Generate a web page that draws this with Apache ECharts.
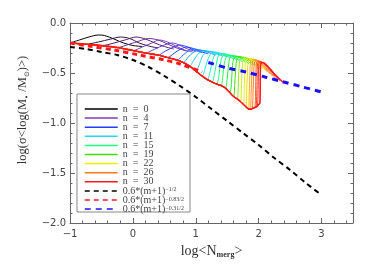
<!DOCTYPE html>
<html><head><meta charset="utf-8">
<script src="https://cdn.jsdelivr.net/npm/echarts@6/dist/echarts.min.js"></script>
<style>html,body{margin:0;padding:0;background:#fff}#c{width:374px;height:267px}</style>
</head><body><div id="c"></div>
<script>
// ---- data ----
const xTicks = [-1, 0, 1, 2, 3];
const yTicks = [0.0, -0.5, -1.0, -1.5, -2.0];

// common lower envelope shared by the curves before they depart upward
const lowerEnvelope = [[-1.0,-0.20],[-0.75,-0.212],[-0.5,-0.226],[-0.25,-0.245],[0.0,-0.275],[0.2,-0.30],[0.4,-0.32],[0.55,-0.345],[0.7,-0.37],[0.8,-0.395],[0.9,-0.43],[1.0,-0.48],[1.1,-0.53],[1.18,-0.565],[1.26,-0.59],[1.33,-0.61],[1.4,-0.625],[1.47,-0.65],[1.54,-0.695],[1.6,-0.735],[1.66,-0.76],[1.71,-0.785],[1.76,-0.815],[1.8,-0.84],[1.84,-0.86],[1.87,-0.862],[1.9,-0.855],[1.94,-0.845],[1.96,-0.84],[1.98,-0.83],[2.0,-0.815],[2.02,-0.80]];

// per-curve part after leaving the lower envelope (n = 0 ... 30)
const curveTails = [
 [[-1.0,-0.20],[-0.85,-0.17],[-0.7,-0.14],[-0.55,-0.12],[-0.45,-0.125],[-0.3,-0.16],[-0.15,-0.2],[0.0,-0.225],[0.15,-0.235]],
 [[-0.75,-0.212],[-0.55,-0.19],[-0.35,-0.16],[-0.2,-0.14],[-0.05,-0.155],[0.1,-0.2],[0.25,-0.23],[0.4,-0.25]],
 [[-0.5,-0.226],[-0.3,-0.2],[-0.1,-0.165],[0.05,-0.14],[0.2,-0.16],[0.35,-0.2],[0.5,-0.235],[0.65,-0.26]],
 [[-0.25,-0.245],[-0.05,-0.21],[0.1,-0.18],[0.25,-0.155],[0.4,-0.17],[0.55,-0.21],[0.7,-0.25],[0.85,-0.28]],
 [[0.0,-0.275],[0.15,-0.24],[0.3,-0.2],[0.42,-0.17],[0.55,-0.19],[0.68,-0.23],[0.82,-0.27],[0.95,-0.29]],
 [[0.2,-0.30],[0.35,-0.26],[0.5,-0.22],[0.62,-0.2],[0.72,-0.215],[0.85,-0.255],[1.0,-0.285]],
 [[0.4,-0.32],[0.52,-0.28],[0.65,-0.24],[0.75,-0.22],[0.85,-0.235],[0.95,-0.265],[1.1,-0.295]],
 [[0.55,-0.345],[0.66,-0.3],[0.76,-0.26],[0.86,-0.24],[0.96,-0.255],[1.08,-0.285],[1.2,-0.31]],
 [[0.7,-0.37],[0.8,-0.32],[0.88,-0.28],[0.98,-0.26],[1.1,-0.275],[1.22,-0.3],[1.32,-0.32]],
 [[0.8,-0.395],[0.88,-0.34],[0.95,-0.3],[1.05,-0.27],[1.18,-0.28],[1.3,-0.3],[1.42,-0.33]],
 [[0.9,-0.43],[0.97,-0.37],[1.03,-0.315],[1.12,-0.28],[1.25,-0.285],[1.38,-0.31],[1.5,-0.34]],
 [[1.0,-0.48],[1.06,-0.41],[1.1,-0.34],[1.18,-0.29],[1.3,-0.29],[1.42,-0.31],[1.55,-0.35]],
 [[1.1,-0.53],[1.15,-0.45],[1.19,-0.37],[1.25,-0.305],[1.36,-0.3],[1.48,-0.32],[1.6,-0.36]],
 [[1.18,-0.565],[1.23,-0.48],[1.26,-0.39],[1.31,-0.315],[1.42,-0.305],[1.55,-0.33],[1.65,-0.37]],
 [[1.26,-0.59],[1.3,-0.5],[1.33,-0.4],[1.37,-0.32],[1.47,-0.31],[1.6,-0.34],[1.7,-0.38]],
 [[1.33,-0.61],[1.37,-0.52],[1.39,-0.41],[1.43,-0.33],[1.52,-0.32],[1.64,-0.345],[1.75,-0.39]],
 [[1.4,-0.625],[1.43,-0.53],[1.45,-0.42],[1.49,-0.335],[1.58,-0.325],[1.7,-0.35],[1.8,-0.4]],
 [[1.47,-0.65],[1.5,-0.55],[1.52,-0.43],[1.55,-0.34],[1.64,-0.33],[1.75,-0.36],[1.85,-0.41]],
 [[1.54,-0.695],[1.57,-0.58],[1.58,-0.45],[1.61,-0.35],[1.69,-0.335],[1.8,-0.365],[1.9,-0.42]],
 [[1.6,-0.735],[1.62,-0.6],[1.635,-0.46],[1.66,-0.355],[1.74,-0.34],[1.85,-0.37],[1.94,-0.43]],
 [[1.66,-0.76],[1.675,-0.63],[1.685,-0.48],[1.71,-0.36],[1.78,-0.345],[1.88,-0.375],[1.98,-0.44]],
 [[1.71,-0.785],[1.725,-0.65],[1.735,-0.5],[1.755,-0.365],[1.82,-0.35],[1.92,-0.38],[2.02,-0.45]],
 [[1.76,-0.815],[1.77,-0.67],[1.78,-0.51],[1.8,-0.37],[1.86,-0.355],[1.95,-0.385],[2.06,-0.46]],
 [[1.8,-0.84],[1.81,-0.69],[1.82,-0.52],[1.84,-0.375],[1.9,-0.36],[1.99,-0.39],[2.1,-0.47]],
 [[1.84,-0.86],[1.85,-0.7],[1.86,-0.53],[1.875,-0.38],[1.93,-0.365],[2.02,-0.4],[2.14,-0.49]],
 [[1.87,-0.862],[1.88,-0.7],[1.89,-0.54],[1.905,-0.385],[1.96,-0.37],[2.05,-0.41],[2.18,-0.51]],
 [[1.9,-0.855],[1.91,-0.7],[1.92,-0.54],[1.935,-0.39],[1.98,-0.375],[2.07,-0.415],[2.22,-0.53]],
 [[1.94,-0.845],[1.95,-0.7],[1.955,-0.55],[1.965,-0.39],[2.0,-0.38],[2.1,-0.42],[2.26,-0.55]],
 [[1.96,-0.84],[1.97,-0.7],[1.975,-0.55],[1.985,-0.395],[2.02,-0.385],[2.13,-0.43],[2.3,-0.565]],
 [[1.98,-0.83],[1.99,-0.7],[1.995,-0.55],[2.005,-0.395],[2.04,-0.39],[2.16,-0.44],[2.34,-0.58]],
 [[2.02,-0.80],[2.025,-0.6],[2.03,-0.41],[2.07,-0.395],[2.15,-0.44],[2.25,-0.51],[2.4,-0.60]]
];

const dashBlack = [[-1.0,-0.24],[-0.75,-0.26],[-0.5,-0.29],[-0.25,-0.32],[0.0,-0.37],[0.25,-0.44],[0.5,-0.53],[0.75,-0.63],[1.0,-0.74],[1.25,-0.86],[1.5,-0.98],[1.75,-1.10],[2.0,-1.22],[2.25,-1.35],[2.5,-1.47],[2.75,-1.60],[3.0,-1.72]];
const dashRed = [[-1.0,-0.20],[-0.7,-0.23],[-0.3,-0.27],[0.1,-0.32],[0.5,-0.37],[0.75,-0.41],[1.1,-0.49]];
const dashBlue = [[1.2,-0.395],[1.5,-0.45],[1.8,-0.49],[2.1,-0.54],[2.4,-0.59],[2.7,-0.64],[3.0,-0.69]];

const legendCurves = [0, 4, 7, 11, 15, 19, 22, 26, 30];
const dashNames = ['0.6*(m+1)^-1/2', '0.6*(m+1)^-0.83/2', '0.6*(m+1)^-0.31/2'];

// ---- styles ----
const palette = ['#000000','#301038','#5a1a70','#6c2c96','#7c3cb4','#5a3cd0','#3c3ce8','#2040ff','#2070ff','#20a0ff','#20c0ff','#20d8ff','#20e8f0','#20f0c8','#20f8a0','#20ff80','#20f860','#20f040','#30e820','#40e000','#90e800','#c8f000','#e8f000','#ffd800','#ffb000','#ff9020','#ff7820','#ff6020','#ff4820','#ff3020','#ff1818'];

const series = curveTails.map((tail, n) => ({
  name: 'n = ' + n,
  type: 'line',
  data: lowerEnvelope.filter(p => p[0] < tail[0][0]).concat(tail),
  symbol: 'none', smooth: 0.3, animation: false,
  lineStyle: {color: palette[n], width: n === 30 ? 1.6 : 1},
  itemStyle: {color: palette[n]},
  z: 2
}));
series.push({name: dashNames[0], type:'line', data: dashBlack, symbol:'none', smooth:0.3, animation:false,
  lineStyle:{color:'#000', width:2, type:[5,4]}, itemStyle:{color:'#333'}, z:3});
series.push({name: dashNames[1], type:'line', data: dashRed, symbol:'none', smooth:0.3, animation:false,
  lineStyle:{color:'#ff1818', width:3, type:[5,4]}, itemStyle:{color:'#ff3030'}, z:3});
series.push({name: dashNames[2], type:'line', data: dashBlue, symbol:'none', smooth:0.3, animation:false,
  lineStyle:{color:'#1a10ff', width:3, type:[6,5]}, itemStyle:{color:'#3030ff'}, z:3});

const minus = v => (v < 0 ? '\u2212' : '') + Math.abs(v);
const axisCol = '#666';
function xAx(pos, labels) {
  return {type:'value', position:pos, min:-1, max:3.5, interval:1,
    axisLine:{show:true, onZero:false, lineStyle:{color:axisCol}},
    axisTick:{show:true, inside:true, length:5, lineStyle:{color:axisCol}},
    minorTick:{show:true, splitNumber:5, length:2.5, lineStyle:{color:axisCol}},
    splitLine:{show:false}, minorSplitLine:{show:false},
    axisLabel:{show:labels, color:'#444', fontSize:10, fontFamily:'DejaVu Sans', margin:6,
      formatter: v => xTicks.includes(v) ? minus(v) : ''}};
}
function yAx(pos, labels) {
  return {type:'value', position:pos, min:-2.0, max:0.0, interval:0.5,
    axisLine:{show:true, onZero:false, lineStyle:{color:axisCol}},
    axisTick:{show:true, inside:true, length:5, lineStyle:{color:axisCol}},
    minorTick:{show:true, splitNumber:5, length:2.5, lineStyle:{color:axisCol}},
    splitLine:{show:false}, minorSplitLine:{show:false},
    axisLabel:{show:labels, color:'#444', fontSize:10, fontFamily:'DejaVu Sans', margin:4,
      formatter: v => yTicks.includes(v) ? (v < 0 ? '\u2212' : '') + Math.abs(v).toFixed(1) : ''}};
}
const xb = xAx('bottom', true);
xb.name = '{t|log<N}{b|merg}{t|>}';
xb.nameLocation = 'middle'; xb.nameGap = 20;
xb.nameTextStyle = {rich:{
  t:{fontFamily:'Liberation Serif', fontSize:14, color:'#333', lineHeight:16, verticalAlign:'middle'},
  b:{fontFamily:'Liberation Serif', fontSize:8, fontWeight:'bold', color:'#333', lineHeight:8, verticalAlign:'bottom'}}};
const yl = yAx('left', true);
yl.name = '{p| }{t|log(σ<log(M}{s|•}{t| /M}{s|⊙}{t|)>)}';
yl.nameLocation = 'middle'; yl.nameGap = 38; yl.nameRotate = 90;
yl.nameTextStyle = {rich:{
  p:{width:26, fontSize:13, lineHeight:16},
  t:{fontFamily:'Liberation Serif', fontSize:12.5, color:'#333', lineHeight:16, verticalAlign:'middle'},
  s:{fontFamily:'DejaVu Sans', fontSize:7, color:'#333', lineHeight:8, verticalAlign:'bottom'}}};

const dashLabel = {};
dashLabel[dashNames[0]] = '{a|0.6*(m+1)}{s|\u22121/2}';
dashLabel[dashNames[1]] = '{a|0.6*(m+1)}{s|\u22120.83/2}';
dashLabel[dashNames[2]] = '{a|0.6*(m+1)}{s|\u22120.31/2}';

const option = {
  animation:false,
  grid:{left:70, right:21, top:23, bottom:44},
  xAxis:[xb, xAx('top', false)],
  yAxis:[yl, yAx('right', false)],
  legend:{
    data: legendCurves.map(n => 'n = ' + n).concat(dashNames),
    orient:'vertical', left:84, top:104, padding:0,
    itemWidth:33, itemHeight:8, itemGap:-0.9, selectedMode:false,
    lineStyle:{width:1.5},
    itemStyle:{opacity:0, color:'transparent', borderWidth:0},
    formatter: name => dashLabel[name] ? dashLabel[name] : '{a|' + name.replace(/ = /, '  =  ') + '}',
    textStyle:{color:'#444', fontSize:10, lineHeight:8, rich:{
      a:{fontFamily:'Liberation Serif', fontSize:10, color:'#444', lineHeight:8, verticalAlign:'middle'},
      s:{fontFamily:'Liberation Serif', fontSize:6, color:'#444', lineHeight:8, verticalAlign:'top'}}},
    z:5
  },
  graphic:{elements:[{type:'rect', z:4, shape:{x:77, y:94, width:113, height:118},
    style:{fill:'#fff', stroke:'#888', lineWidth:1}}]},
  series: series
};
const chart = echarts.init(document.getElementById('c'), null, {renderer:'canvas'});
chart.setOption(option);
</script></body></html>
